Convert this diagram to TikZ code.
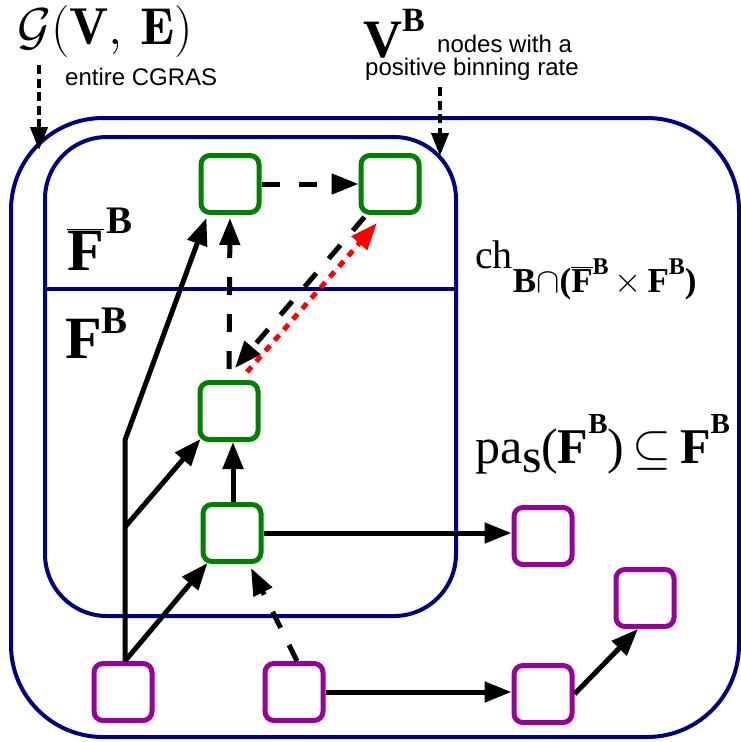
\RequirePackage{fix-cm}
\documentclass[tikz,border=0pt]{standalone}
\usepackage{fontspec}
\newfontfamily\tnr{Liberation Serif}
\newfontfamily\arial{Liberation Sans}
\usetikzlibrary{arrows.meta,calc}
\definecolor{cnavy}{RGB}{0,0,128}
\definecolor{cgreen}{RGB}{0,128,0}
\definecolor{cpurple}{RGB}{153,0,153}
\newcommand{\fbarglyph}{$\overline{\hbox{F}}$}
\newcommand{\supBB}[2]{\raisebox{#1}{\fontsize{#2}{#2}\selectfont B}}
\begin{document}
\begin{tikzpicture}[x=1pt,y=-1pt,
  box/.style={draw, line width=5pt, rounded corners=9pt, minimum width=58pt, minimum height=57pt, fill=white, inner sep=0pt},
  gbox/.style={box, draw=cgreen},
  pbox/.style={box, draw=cpurple},
  container/.style={draw=cnavy, line width=4pt},
  conn/.style={line width=5pt, -{Triangle[length=27pt,width=20pt]}},
  dconn/.style={conn, dash pattern=on 18pt off 19pt},
  rconn/.style={conn, draw=red, fill=red, dash pattern=on 7pt off 7pt},
  pointer/.style={line width=4pt, dash pattern=on 9pt off 4.5pt, -{Triangle[length=23pt,width=17pt]}},
  lbl/.style={anchor=base west, inner sep=0pt},
  sans/.style={lbl, font=\arial\fontsize{24}{28}\selectfont},
]
\useasboundingbox (0,0) rectangle (741,742);
% containers
\draw[container, rounded corners=92pt] (11,118) rectangle (739,737);
\draw[container, rounded corners=62pt] (45,137) rectangle (456,616);
\draw[container] (45,289) -- (456,289);
% boxes
\node[gbox] (g1) at (230,184) {};
\node[gbox] (g2) at (390,184) {};
\node[gbox] (g3) at (229,411) {};
\node[gbox] (g4) at (232,533) {};
\node[pbox] (p1) at (123,692) {};
\node[pbox] (p2) at (294,692) {};
\node[pbox] (p3) at (543,536) {};
\node[pbox] (p4) at (645,598) {};
\node[pbox] (p5) at (543,694) {};
% connectors
\coordinate (ja) at (125,440);
\coordinate (jb) at (125,527);
\draw[conn, line join=miter] ($(p1.north)+(2,0)$) -- (ja) -- ($(g1.south west)+(8,3)$);
\draw[conn] (jb) -- ($(g3.south west)+(3,-3)$);
\draw[conn] ($(p1.north)+(2,0)$) -- ($(g4.south west)+(7,-1)$);
\draw[conn] ($(g4.north)+(1,0)$) -- ($(g4.north |- g3.south)+(1,0)$);
\draw[conn] (g4.east) -- (g4.east -| p3.west);
\draw[conn] (p2.east) -- (p2.east -| p5.west);
\draw[conn] (p5.east) -- ($(p4.south)+(-7,0)$);
\draw[dconn] (g1.east) -- (g1.east -| g2.west);
\draw[dconn, shorten >=3pt] ($(g3.north)+(0,-11)$) -- (g1.south);
\draw[dconn] ($(g2.south west)+(6,2)$) -- ($(g3.north)+(6,-12)$);
\draw[rconn] ($(g3.north)+(18,-8)$) -- ($(g2.south)+(-13,8)$);
\draw[dconn] ($(p2.north)+(3,0)$) -- ($(g4.south)+(19,4)$);
% pointers
\coordinate (gs) at (39,65);
\coordinate (ge) at (39,150);
\draw[pointer] (gs) -- (ge);
\coordinate (vs) at (440,87);
\coordinate (ve) at (440,156);
\draw[pointer] (vs) -- (ve);
% labels
\node[lbl] (gve) at (17,44) {\fontsize{52}{60}\selectfont$\mathcal{G}(\mathbf{V},\,\mathbf{E})$};
\node[sans] (cgras) at (65,85) {entire CGRAS};
\node[lbl] (vb) at (363,57) {\tnr\bfseries\fontsize{54}{60}\selectfont V\supBB{26pt}{34}};
\node[sans] (nwa) at (437,52) {nodes with a};
\node[sans] (pbr) at (365,75) {positive binning rate};
\node[lbl] (fbar) at (67,270) {\tnr\bfseries\fontsize{60}{64}\selectfont\fbarglyph\kern3pt\supBB{37pt}{39}};
\node[lbl] (fb) at (65,358) {\tnr\bfseries\fontsize{60}{64}\selectfont F\supBB{25pt}{39}};
\node[lbl] (ch) at (475,268) {\tnr\fontsize{40}{44}\selectfont ch\raisebox{-24pt}{\bfseries\fontsize{35}{38}\selectfont B$\cap$(\fbarglyph\supBB{18pt}{24}$\,\times\,$F\supBB{18pt}{24})}};
\node[lbl] (pas) at (475,463) {\tnr\fontsize{50}{54}\selectfont pa\raisebox{-9pt}{\bfseries\fontsize{34}{36}\selectfont S}(\textbf{F}\raisebox{30pt}{\bfseries\fontsize{29}{30}\selectfont B})\,$\subseteq$\,\textbf{F}\raisebox{30pt}{\bfseries\fontsize{29}{30}\selectfont B}};
\end{tikzpicture}
\end{document}
